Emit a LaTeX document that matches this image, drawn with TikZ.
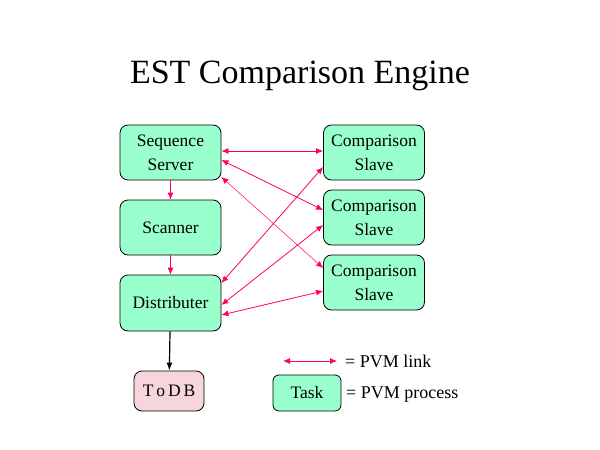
\documentclass[tikz,border=0pt]{standalone}
\usepackage{fontspec}
\setmainfont{Liberation Serif}
\usetikzlibrary{arrows.meta}
\definecolor{mint}{RGB}{153,255,204}
\definecolor{dbpink}{RGB}{246,214,218}
\definecolor{link}{RGB}{255,0,102}
\tikzset{
  task/.style={draw, line width=0.8pt, rounded corners=8pt, fill=mint, minimum width=101pt, minimum height=55pt, align=center, inner sep=0pt, font=\fontsize{17.5}{24}\selectfont},
  pvm/.style={draw=link, line width=0.8pt, {Latex[length=7pt,width=6pt]}-{Latex[length=7pt,width=6pt]}},
  flow/.style={draw=link, line width=0.8pt, -{Latex[length=7pt,width=6pt]}},
  legend/.style={anchor=base west, font=\fontsize{18}{22}\selectfont, inner sep=0pt},
}
\begin{document}
\begin{tikzpicture}[x=1pt,y=-1pt]
\useasboundingbox (0,0) rectangle (600,450);
\node[font=\fontsize{34}{40}\selectfont, anchor=base] (title) at (300,83) {EST Comparison Engine};
\node[task] (ss) at (170.5,152.5) {Sequence\\Server};
\node[task] (sc) at (170.5,227.5) {Scanner};
\node[task, minimum height=56pt] (di) at (170.5,303) {Distributer};
\node[task] (c1) at (374,152.5) {Comparison\\Slave};
\node[task] (c2) at (374,217.5) {Comparison\\Slave};
\node[task] (c3) at (374,282.5) {Comparison\\Slave};
\node[task, fill=dbpink, minimum width=70pt, minimum height=40pt] (db) at (169,391) {T\,o\,D\,B};
\node[task, minimum width=68pt, minimum height=36pt, rounded corners=6pt] (tk) at (307,393) {Task};
\draw[flow] (ss) -- (sc);
\draw[flow] (sc) -- (di);
\draw[line width=1.2pt, -{Latex[length=8pt,width=6pt]}] (di) -- (db);
\draw[pvm] ([yshift=1.5pt]ss.east) -- ([yshift=1.5pt]c1.west);
\draw[pvm] ([yshift=-7.5pt]ss.east) -- ([yshift=7.5pt]c2.west);
\draw[pvm, line width=0.5pt] ([yshift=-24.5pt]ss.east) -- ([yshift=14.5pt]c3.west);
\draw[pvm] ([yshift=20pt]di.east) -- ([yshift=-14.5pt]c1.west);
\draw[pvm] ([yshift=-2pt]di.east) -- ([yshift=-7.5pt]c2.west);
\draw[pvm] ([yshift=-12pt]di.east) -- ([yshift=-8.5pt]c3.west);
\coordinate (la) at (283,361);
\coordinate (lb) at (337,361);
\draw[pvm] (la) -- (lb);
\node[legend] (lt) at (345,367) {= PVM link};
\node[legend] (pt) at (346,398) {= PVM process};
\end{tikzpicture}
\end{document}
